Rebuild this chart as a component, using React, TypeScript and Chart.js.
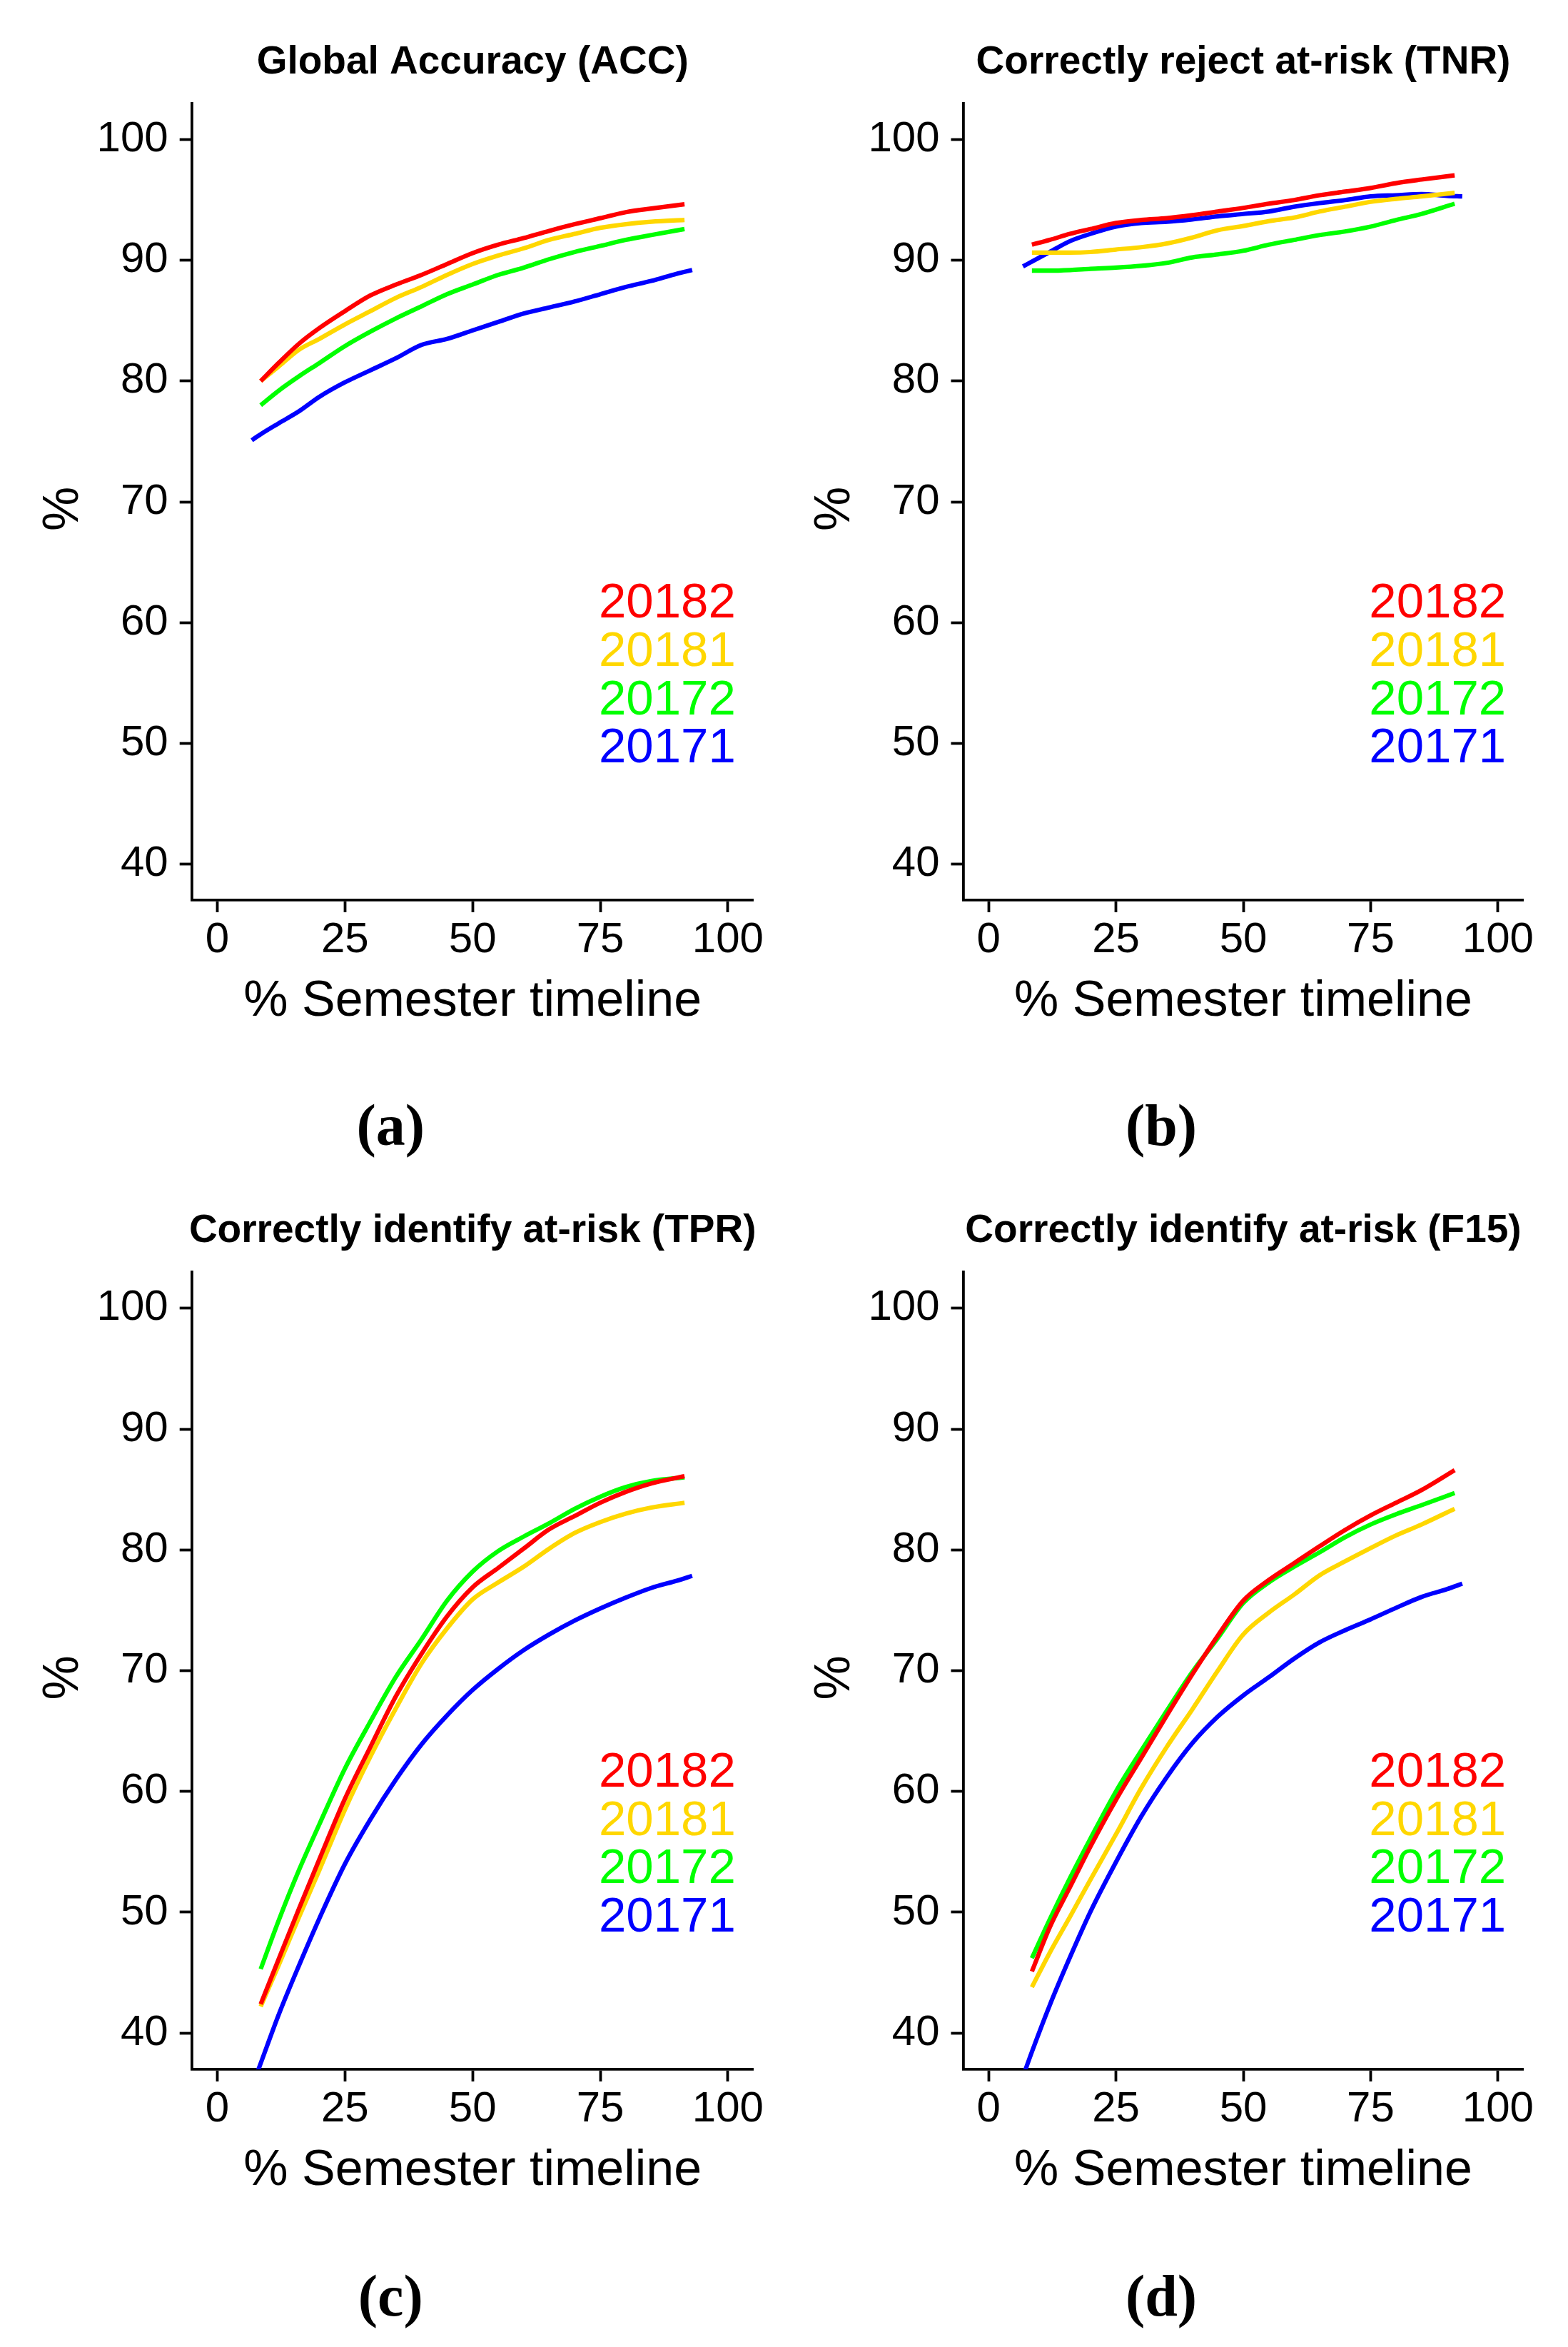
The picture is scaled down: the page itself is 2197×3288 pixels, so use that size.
import React, { useEffect, useRef } from 'react';
import { Chart, registerables } from 'chart.js';

Chart.register(...registerables);

// ---- data ----
const SERIES = ['20182', '20181', '20172', '20171'];
const COLORS = ['#FF0000', '#FFD700', '#00FF00', '#0000FF'];
const X_MAIN = [8.5, 12, 16, 20, 25, 30, 35, 40, 45, 50, 55, 60, 65, 70, 75, 80, 85, 91.5];
const X_BLUE = [6.75, 8.5, 12, 16, 20, 25, 30, 35, 40, 45, 50, 55, 60, 65, 70, 75, 80, 85, 90, 93];
const Y_TICKS = [40, 50, 60, 70, 80, 90, 100];
const X_TICKS = [0, 25, 50, 75, 100];
const X_LABEL = '% Semester timeline';
const Y_LABEL = '%';

// (a) Global Accuracy
const ACC_20182 = [80.0, 81.5, 83.1, 84.4, 85.8, 87.1, 88.0, 88.8, 89.7, 90.6, 91.3, 91.85, 92.45, 93.0, 93.5, 94.0, 94.3, 94.65];
const ACC_20181 = [80.0, 81.2, 82.6, 83.5, 84.7, 85.8, 86.9, 87.8, 88.8, 89.7, 90.4, 91.0, 91.7, 92.2, 92.7, 93.0, 93.2, 93.35];
const ACC_20172 = [78.0, 79.2, 80.4, 81.5, 82.9, 84.1, 85.2, 86.2, 87.2, 88.0, 88.8, 89.4, 90.1, 90.7, 91.2, 91.7, 92.1, 92.6];
const ACC_20171 = [75.1, 75.6, 76.5, 77.5, 78.7, 79.9, 80.9, 81.9, 83.0, 83.5, 84.2, 84.9, 85.6, 86.1, 86.6, 87.2, 87.8, 88.3, 88.9, 89.2];

// (b) TNR
const TNR_20182 = [91.3, 91.7, 92.2, 92.6, 93.1, 93.35, 93.5, 93.75, 94.05, 94.35, 94.7, 95.0, 95.4, 95.7, 96.0, 96.4, 96.7, 97.05];
const TNR_20181 = [90.65, 90.65, 90.65, 90.7, 90.9, 91.1, 91.4, 91.9, 92.5, 92.85, 93.25, 93.55, 94.05, 94.45, 94.85, 95.1, 95.3, 95.6];
const TNR_20172 = [89.15, 89.15, 89.2, 89.3, 89.4, 89.55, 89.8, 90.25, 90.5, 90.8, 91.3, 91.7, 92.1, 92.4, 92.8, 93.35, 93.85, 94.7];
const TNR_20171 = [89.5, 89.9, 90.7, 91.6, 92.2, 92.8, 93.1, 93.2, 93.4, 93.65, 93.85, 94.05, 94.45, 94.75, 95.0, 95.3, 95.4, 95.5, 95.35, 95.3];

// (c) TPR
const TPR_20182 = [42.4, 46.1, 50.3, 54.4, 59.4, 63.7, 67.9, 71.4, 74.5, 76.9, 78.5, 80.1, 81.7, 82.8, 83.9, 84.8, 85.5, 86.1];
const TPR_20181 = [42.2, 45.6, 49.6, 53.5, 58.5, 62.9, 66.9, 70.6, 73.5, 75.9, 77.3, 78.6, 80.1, 81.4, 82.3, 83.0, 83.5, 83.9];
const TPR_20172 = [45.3, 49.3, 53.5, 57.3, 61.9, 65.8, 69.5, 72.6, 75.8, 78.2, 79.9, 81.1, 82.2, 83.4, 84.4, 85.2, 85.7, 86.0];
const TPR_20171 = [35.5, 37.5, 41.5, 45.6, 49.5, 54.0, 57.7, 61.0, 63.9, 66.3, 68.4, 70.15, 71.7, 73.0, 74.15, 75.15, 76.05, 76.85, 77.45, 77.85];

// (d) F15
const F15_20182 = [45.1, 48.75, 52.1, 55.45, 59.3, 62.8, 66.3, 69.7, 72.9, 75.8, 77.5, 78.9, 80.3, 81.65, 82.85, 83.9, 84.95, 86.6];
const F15_20181 = [43.8, 46.65, 49.65, 52.7, 56.45, 60.3, 63.7, 66.8, 70.0, 73.0, 74.8, 76.3, 77.9, 79.05, 80.15, 81.2, 82.1, 83.4];
const F15_20172 = [46.2, 49.4, 52.85, 56.1, 60.0, 63.4, 66.7, 69.9, 72.7, 75.6, 77.3, 78.6, 79.8, 81.05, 82.1, 82.95, 83.7, 84.7];
const F15_20171 = [36.4, 38.45, 42.3, 46.3, 50.05, 54.15, 57.95, 61.2, 64.0, 66.2, 67.95, 69.45, 71.0, 72.35, 73.35, 74.25, 75.2, 76.1, 76.75, 77.2];

// ---- layout / style ----
const SANS = '"Liberation Sans", Arial, Helvetica, sans-serif';
const SERIF = '"Liberation Serif", "Times New Roman", serif';
const LEGEND_X = 74.7;
const LEGEND_Y0 = 60.4;
const LEGEND_STEP = 4;

type PanelCfg = {
  title: string;
  caption: string;
  series: number[][];
  left: number;
  top: number;
  w: number;
  h: number;
  area: { l: number; r: number; t: number; b: number };
};

const PANELS: PanelCfg[] = [
  {
    title: 'Global Accuracy (ACC)', caption: '(a)',
    series: [ACC_20182, ACC_20181, ACC_20172, ACC_20171],
    left: 0, top: 0, w: 1098, h: 1640,
    area: { l: 268.7, r: 1055.7, t: 145, b: 1261 },
  },
  {
    title: 'Correctly reject at-risk (TNR)', caption: '(b)',
    series: [TNR_20182, TNR_20181, TNR_20172, TNR_20171],
    left: 1098, top: 0, w: 1099, h: 1640,
    area: { l: 251.5, r: 1036.5, t: 145, b: 1261 },
  },
  {
    title: 'Correctly identify at-risk (TPR)', caption: '(c)',
    series: [TPR_20182, TPR_20181, TPR_20172, TPR_20171],
    left: 0, top: 1640, w: 1098, h: 1648,
    area: { l: 268.7, r: 1055.7, t: 142, b: 1259 },
  },
  {
    title: 'Correctly identify at-risk (F15)', caption: '(d)',
    series: [F15_20182, F15_20181, F15_20172, F15_20171],
    left: 1098, top: 1640, w: 1099, h: 1648,
    area: { l: 251.5, r: 1036.5, t: 142, b: 1259 },
  },
];

const textPlugin = {
  id: 'panelText',
  afterDraw(chart: any, _args: any, opts: any) {
    const { ctx, chartArea: ca, scales } = chart;
    const cx = (ca.left + ca.right) / 2;
    ctx.save();
    ctx.fillStyle = '#000';
    ctx.textBaseline = 'alphabetic';
    ctx.textAlign = 'center';
    // title
    ctx.font = `bold 55px ${SANS}`;
    ctx.fillText(opts.title, cx, ca.top - 42);
    // x title
    ctx.font = `70px ${SANS}`;
    ctx.fillText(X_LABEL, cx, ca.bottom + 162);
    // y title
    ctx.save();
    ctx.translate(ca.left - 160, (ca.top + ca.bottom) / 2 + 10);
    ctx.rotate(-Math.PI / 2);
    ctx.fillText(Y_LABEL, 0, 0);
    ctx.restore();
    // caption
    ctx.font = `bold 82px ${SERIF}`;
    ctx.fillText(opts.caption, cx - 115, 1604);
    // in-plot legend labels
    ctx.font = `69px ${SANS}`;
    ctx.textAlign = 'left';
    SERIES.forEach((s, i) => {
      ctx.fillStyle = COLORS[i];
      ctx.fillText(
        s,
        scales.x.getPixelForValue(LEGEND_X),
        scales.y.getPixelForValue(LEGEND_Y0 - i * LEGEND_STEP)
      );
    });
    ctx.restore();
  },
};

const axisCommon = {
  grid: {
    display: true,
    drawOnChartArea: false,
    drawTicks: true,
    tickLength: 17,
    tickWidth: 3.8,
    tickColor: '#000',
  },
  border: { display: true, color: '#000', width: 3.8 },
};

function Panel({ cfg }: { cfg: PanelCfg }) {
  const ref = useRef<HTMLCanvasElement>(null);
  useEffect(() => {
    const canvas = ref.current;
    if (!canvas) return;
    const chart = new Chart(canvas, {
      type: 'line',
      data: {
        datasets: SERIES.map((s, i) => {
          const xs = i === 3 ? X_BLUE : X_MAIN;
          return {
            label: s,
            data: xs.map((x, j) => ({ x, y: cfg.series[i][j] })),
            borderColor: COLORS[i],
            backgroundColor: COLORS[i],
            borderWidth: 6.2,
            pointRadius: 0,
            fill: false,
            cubicInterpolationMode: 'monotone',
            clip: 0,
          };
        }),
      },
      options: {
        responsive: false,
        animation: false,
        devicePixelRatio: 1,
        layout: {
          padding: { left: 0, top: cfg.area.t, right: cfg.w - cfg.area.r, bottom: 0 },
        },
        plugins: {
          legend: { display: false },
          tooltip: { enabled: false },
          panelText: { title: cfg.title, caption: cfg.caption },
        } as any,
        scales: {
          x: {
            type: 'linear',
            min: -5,
            max: 105,
            ...axisCommon,
            afterBuildTicks: (s: any) => {
              s.ticks = X_TICKS.map((v) => ({ value: v }));
            },
            afterFit: (s: any) => {
              s.height = cfg.h - cfg.area.b;
            },
            ticks: {
              autoSkip: false,
              maxRotation: 0,
              padding: 3,
              color: '#000',
              font: { family: SANS, size: 60 },
            },
          },
          y: {
            type: 'linear',
            min: 37,
            max: 103,
            ...axisCommon,
            afterBuildTicks: (s: any) => {
              s.ticks = Y_TICKS.map((v) => ({ value: v }));
            },
            afterFit: (s: any) => {
              s.width = cfg.area.l;
            },
            ticks: {
              autoSkip: false,
              padding: 16,
              color: '#000',
              font: { family: SANS, size: 60 },
            },
          },
        },
      } as any,
      plugins: [textPlugin as any],
    });
    return () => chart.destroy();
  }, [cfg]);
  return (
    <canvas
      ref={ref}
      width={cfg.w}
      height={cfg.h}
      style={{ position: 'absolute', left: cfg.left, top: cfg.top, width: cfg.w, height: cfg.h }}
    />
  );
}

export default function App() {
  return (
    <div style={{ position: 'absolute', left: 0, top: 0, width: 2197, height: 3288, background: '#fff' }}>
      {PANELS.map((p) => (
        <Panel key={p.caption} cfg={p} />
      ))}
    </div>
  );
}
